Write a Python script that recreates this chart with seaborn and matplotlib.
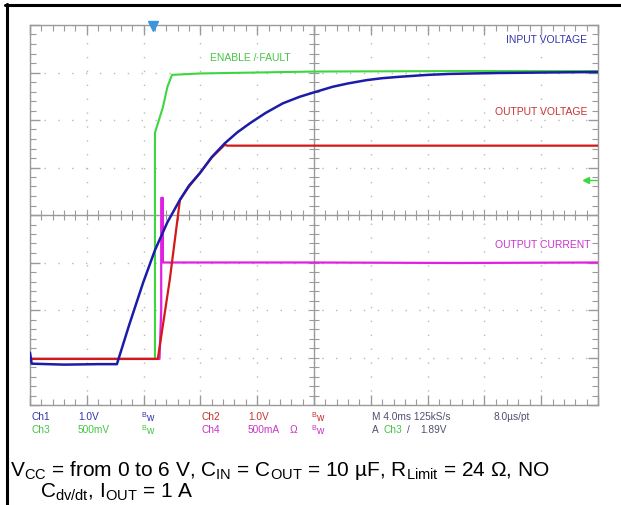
import numpy as np
import pandas as pd
import matplotlib
matplotlib.use("Agg")
import matplotlib.pyplot as plt
from matplotlib.lines import Line2D
import seaborn as sns

sns.set_style("white")
plt.rcParams['font.family'] = ['Liberation Sans', 'DejaVu Sans']
plt.rcParams['mathtext.fontset'] = 'custom'
plt.rcParams['mathtext.rm'] = 'Liberation Sans'
plt.rcParams['mathtext.it'] = 'Liberation Sans'
plt.rcParams['mathtext.bf'] = 'Liberation Sans:bold'

# ---- data (screen divisions: x 0..10, y 0..8) ----
input_x = [0.0, 0.03, 0.6, 1.2, 1.53, 1.75, 1.99, 2.20, 2.42, 2.64, 2.80, 2.99, 3.20, 3.43, 3.65, 3.87, 4.15,
           4.45, 4.75, 5.05, 5.33, 5.60, 5.93, 6.20, 6.51, 7.00, 7.39, 7.80, 8.27, 9.10, 10.0]
input_y = [1.10, 0.87, 0.85, 0.86, 0.86, 1.70, 2.57, 3.26, 3.85, 4.32, 4.62, 4.88, 5.22, 5.51, 5.74, 5.93, 6.15,
           6.35, 6.49, 6.60, 6.70, 6.77, 6.84, 6.88, 6.91, 6.95, 6.97, 6.98, 6.99, 7.00, 7.01]

output_v_x = [0.0, 1.0, 2.25, 2.46, 2.64, 2.80, 2.99, 3.20, 3.43, 3.47, 5.0, 7.5, 10.0]
output_v_y = [0.97, 0.97, 0.97, 2.63, 4.32, 4.60, 4.88, 5.21, 5.48, 5.46, 5.46, 5.46, 5.46]

enable_x = [0.0, 2.20, 2.20, 2.27, 2.34, 2.42, 2.50, 3.0, 5.0, 7.5, 10.0]
enable_y = [0.97, 0.97, 5.73, 6.00, 6.27, 6.70, 6.95, 6.98, 7.02, 7.03, 7.03]

current_x = [0.0, 2.28, 2.31, 2.31, 2.34, 2.34, 2.37, 5.0, 7.5, 10.0]
current_y = [0.97, 0.97, 2.0, 4.36, 4.36, 3.00, 3.00, 3.00, 2.99, 3.00]

trace_labels = ["ENABLE / FAULT", "INPUT VOLTAGE", "OUTPUT VOLTAGE", "OUTPUT CURRENT"]

BLUE = "#1c1ca8"
RED = "#d41818"
GREEN = "#3ed63e"
MAGENTA = "#e020e0"

fig = plt.figure(figsize=(6.21, 5.05), dpi=100)
W, H = 621, 505
ax = fig.add_axes([30 / W, (H - 405) / H, 568 / W, 380 / H])

df_en = pd.DataFrame({"x": enable_x, "y": enable_y})
df_cur = pd.DataFrame({"x": current_x, "y": current_y})
df_out = pd.DataFrame({"x": output_v_x, "y": output_v_y})
df_in = pd.DataFrame({"x": input_x, "y": input_y})

sns.lineplot(data=df_en, x="x", y="y", ax=ax, color=GREEN, lw=1.5, sort=False, estimator=None, zorder=3)
sns.lineplot(data=df_cur, x="x", y="y", ax=ax, color=MAGENTA, lw=1.6, sort=False, estimator=None, zorder=4)
sns.lineplot(data=df_out, x="x", y="y", ax=ax, color=RED, lw=1.6, sort=False, estimator=None, zorder=5)
sns.lineplot(data=df_in, x="x", y="y", ax=ax, color=BLUE, lw=1.8, sort=False, estimator=None, zorder=6)

ax.set_xlim(0, 10)
ax.set_ylim(0, 8)
ax.set_xlabel("")
ax.set_ylabel("")

FRAME = "#9a9a9a"
for s in ax.spines.values():
    s.set_color(FRAME)
    s.set_linewidth(1.0)

ax.set_xticks(np.arange(0, 11, 1))
ax.set_yticks(np.arange(0, 9, 1))
ax.set_xticks(np.arange(0, 10.01, 0.2), minor=True)
ax.set_yticks(np.arange(0, 8.01, 0.2), minor=True)
ax.tick_params(which="both", direction="in", top=True, right=True, bottom=True, left=True,
               labelbottom=False, labelleft=False, color=FRAME)
ax.tick_params(which="major", length=7, width=1.0)
ax.tick_params(which="minor", length=4, width=0.8)
ax.grid(True, which="major", color="#b8b8b8", linestyle=(0, (1, 9)), lw=1.0)

# centre cross with ticks
ax.axhline(4, color=FRAME, lw=1.0, zorder=1)
ax.axvline(5, color=FRAME, lw=1.0, zorder=1)
tx = np.arange(0, 10.01, 0.2)
ty = np.arange(0, 8.01, 0.2)
ax.plot(tx, np.full_like(tx, 4), ls="none", marker="|", ms=7, mew=0.8, color=FRAME, zorder=1)
ax.plot(np.full_like(ty, 5), ty, ls="none", marker="_", ms=7, mew=0.8, color=FRAME, zorder=1)

# trace labels
lab_kw = dict(fontsize=7.5, va="center")
ax.text(3.87, 7.31, trace_labels[0], color="#44c444", ha="center", **lab_kw)
ax.text(9.81, 7.68, trace_labels[1], color="#3434b0", ha="right", **lab_kw)
ax.text(9.81, 6.17, trace_labels[2], color="#c83030", ha="right", **lab_kw)
ax.text(9.86, 3.37, trace_labels[3], color="#c834c8", ha="right", **lab_kw)

# trigger markers
ax.plot([2.17], [7.98], marker="v", ms=7, color="#3a96dc", clip_on=False, zorder=10)
ax.plot([9.78, 9.98], [4.74, 4.74], color="#3ed63e", lw=1.0, clip_on=False, zorder=10)
ax.plot([9.78], [4.74], marker="<", ms=4, color="#3ed63e", clip_on=False, zorder=10)

# scope info rows
def ftxt(px, py, s, color, size=7.3):
    fig.text(px / W, (H - py) / H, s, color=color, fontsize=size, ha="left", va="center")

BW = r"$\mathregular{^{B}w}$"
r1, r2 = 417, 430
ftxt(32, r1, "Ch1", "#3434b0"); ftxt(78, r1, "1.0V", "#3434b0"); ftxt(141, r1, BW, "#3434b0")
ftxt(202, r1, "Ch2", "#c83030"); ftxt(248, r1, "1.0V", "#c83030"); ftxt(311, r1, BW, "#c83030")
ftxt(372, r1, "M 4.0ms 125kS/s", "#505070"); ftxt(493, r1, "8.0\u00b5s/pt", "#505070")
ftxt(32, r2, "Ch3", "#44c444"); ftxt(78, r2, "500mV", "#44c444"); ftxt(141, r2, BW, "#44c444")
ftxt(202, r2, "Ch4", "#c834c8"); ftxt(248, r2, "500mA", "#c834c8"); ftxt(290, r2, "\u03a9", "#c834c8")
ftxt(311, r2, BW, "#c834c8")
ftxt(372, r2, "A", "#505070"); ftxt(383, r2, "Ch3", "#44c444"); ftxt(407, r2, "/", "#505070")
ftxt(420, r2, "1.89V", "#505070")

# caption
cap1 = ("V$_\\mathregular{CC}$ = from 0 to 6 V, C$_\\mathregular{IN}$ = C$_\\mathregular{OUT}$ = 10 \u00b5F, "
        "R$_\\mathregular{Limit}$ = 24 \u03a9, NO")
cap2 = r"C$_\mathregular{dv/dt}$, I$_\mathregular{OUT}$ = 1 A"
fig.text(10 / W, (H - 476) / H, cap1, fontsize=15, ha="left", va="baseline", color="black")
fig.text(40 / W, (H - 498) / H, cap2, fontsize=15, ha="left", va="baseline", color="black")

# page borders
fig.add_artist(Line2D([5 / W, 1.0], [(H - 5) / H, (H - 5) / H], color="black", lw=2.2, transform=fig.transFigure))
fig.add_artist(Line2D([6.5 / W, 6.5 / W], [0, (H - 4) / H], color="black", lw=2.2, transform=fig.transFigure))

fig.savefig("out.png", dpi=100)
